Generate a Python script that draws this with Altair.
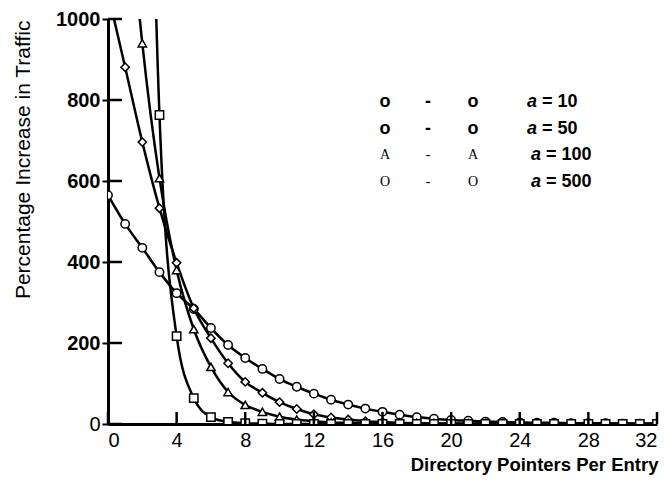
import altair as alt
import pandas as pd

# ---- data ----
x_vals = list(range(0, 33))
a10 = [565, 494, 435, 375, 323, 284, 237, 195, 163, 136, 111, 92, 75, 60, 48, 38,
       30, 23, 17, 13, 10, 8, 6, 5, 4, 3, 3, 2, 2, 2, 1, 1, 1]
a50 = [1064, 881, 696, 533, 398, 286, 212, 150, 104, 77, 54, 37, 24, 16, 11, 7,
       5, 3, 2, 2, 1, 1, 1, 1, 0, 0, 0, 0, 0, 0, 0, 0, 0]
a100 = [2000, 1400, 940, 607, 380, 234, 141, 79, 47, 30, 18, 11, 7, 4, 3, 2,
        1, 1, 1, 0, 0, 0, 0, 0, 0, 0, 0, 0, 0, 0, 0, 0, 0]
a500 = [9000, 6000, 2700, 763, 217, 64, 17, 5, 2, 1, 0, 0, 0, 0, 0, 0,
        0, 0, 0, 0, 0, 0, 0, 0, 0, 0, 0, 0, 0, 0, 0, 0, 0]
series_names = ["a=10", "a=50", "a=100", "a=500"]
series_vals = [a10, a50, a100, a500]
shapes = ["circle", "diamond", "triangle-up", "square"]

x_ticks = [0, 4, 8, 12, 16, 20, 24, 28, 32]
y_ticks = [0, 200, 400, 600, 800, 1000]

legend_sym = ["o", "o", "A", "O"]
legend_num = ["= 10", "= 50", "= 100", "= 500"]

rows = []
for name, vals in zip(series_names, series_vals):
    for xv, yv in zip(x_vals, vals):
        rows.append({"x": xv, "y": yv, "series": name})
df = pd.DataFrame(rows)

W, H = 549, 405

xs = alt.Scale(domain=[0, 32], nice=False, zero=False)
ys = alt.Scale(domain=[0, 1000], nice=False)

x_axis = alt.Axis(values=x_ticks, ticks=False, domainWidth=3, domainColor="black",
                  labelFont="Liberation Sans", labelFontSize=20, labelColor="black",
                  labelPadding=6, grid=False,
                  title="Directory Pointers Per Entry", titleFont="Liberation Sans",
                  titleFontSize=18.5, titleFontWeight="bold", titleColor="black",
                  titleAnchor="end", titleAlign="right", titleX=W + 1, titleY=40,
                  titleBaseline="middle")
y_axis = alt.Axis(values=y_ticks, format="d", ticks=True, tickSize=6, tickWidth=2,
                  tickColor="black", domainWidth=3, domainColor="black",
                  labelFont="Liberation Sans", labelFontSize=20, labelColor="black",
                  labelFontWeight=alt.ExprRef(expr="datum.value == 0 ? 'normal' : 'bold'"),
                  labelPadding=2, grid=False,
                  title="Percentage Increase in Traffic", titleFont="Liberation Sans",
                  titleFontSize=21, titleFontWeight="normal", titleColor="black",
                  titleAngle=-90, titleAlign="right", titleBaseline="middle",
                  titleX=-85, titleY=1)

shape = alt.Shape("series:N", scale=alt.Scale(domain=series_names, range=shapes),
                  legend=None)

base = alt.Chart(df)
lines = base.mark_line(strokeWidth=2.5, interpolate="monotone", clip=True, color="black").encode(
    x=alt.X("x:Q", scale=xs, axis=x_axis),
    y=alt.Y("y:Q", scale=ys, axis=y_axis),
    detail="series:N",
)
points = base.mark_point(filled=True, fill="white", stroke="black", strokeWidth=1.5,
                         size=70, opacity=1, clip=True).encode(
    x=alt.X("x:Q", scale=xs),
    y=alt.Y("y:Q", scale=ys),
    shape=shape,
)

# inward tick marks drawn as rules through the data scales
xt = alt.Chart(pd.DataFrame({"tv": x_ticks})).mark_rule(strokeWidth=2.5, color="#000000").encode(
    x=alt.X("tv:Q", scale=xs), y=alt.value(H), y2=alt.value(H - 12))
yt = alt.Chart(pd.DataFrame({"tv": y_ticks})).mark_rule(strokeWidth=2.5, color="#000000").encode(
    y=alt.Y("tv:Q", scale=ys), x=alt.value(0), x2=alt.value(14))

# hand-drawn style legend, one row per series
row_y = [83, 110, 136, 163]
leg_layers = []
for i in range(4):
    ldf = pd.DataFrame({"sym": [legend_sym[i]], "num": [legend_num[i]]})
    if i < 2:
        sym_style = dict(font="Liberation Sans", fontSize=18, fontWeight="bold")
        ax, nx = 419, 434
    else:
        sym_style = dict(font="Liberation Serif", fontSize=14, fontWeight="normal")
        ax, nx = 423, 438
    for xp in (277, 365):
        leg_layers.append(alt.Chart(ldf).mark_text(baseline="middle", align="center",
                                                   color="black", **sym_style).encode(
            x=alt.value(xp), y=alt.value(row_y[i]), text="sym:N"))
    leg_layers.append(alt.Chart(ldf).mark_text(baseline="middle", align="center",
                                               color="black", **sym_style).encode(
        x=alt.value(320), y=alt.value(row_y[i]), text=alt.value("-")))
    leg_layers.append(alt.Chart(ldf).mark_text(font="Liberation Sans", fontSize=18, fontWeight="bold",
                                               fontStyle="italic", align="left", baseline="middle",
                                               color="black").encode(
        x=alt.value(ax), y=alt.value(row_y[i]), text=alt.value("a")))
    leg_layers.append(alt.Chart(ldf).mark_text(font="Liberation Sans", fontSize=18, fontWeight="bold",
                                               align="left", baseline="middle",
                                               color="black").encode(
        x=alt.value(nx), y=alt.value(row_y[i]), text="num:N"))

chart = alt.layer(lines, points, xt, yt, *leg_layers).properties(
    width=W, height=H,
    autosize=alt.AutoSizeParams(type="none"),
    padding={"left": 108, "top": 19, "right": 13, "bottom": 59},
    background="white",
).configure_view(stroke=None)

chart.save("out.html", embed_options={"renderer": "svg", "actions": False})
